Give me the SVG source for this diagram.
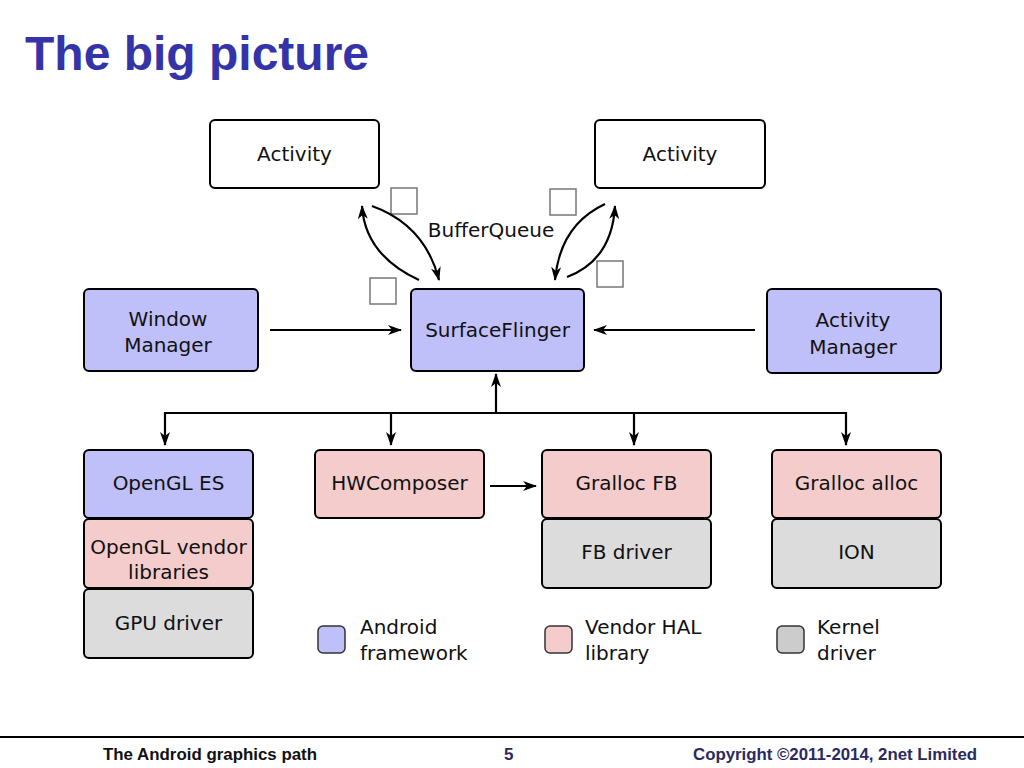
<svg xmlns="http://www.w3.org/2000/svg" width="1024" height="768" viewBox="0 0 1024 768">
<defs>
<marker id="ah" viewBox="0 0 14 10" refX="13" refY="5" markerWidth="14" markerHeight="10" markerUnits="userSpaceOnUse" orient="auto">
<path d="M0,0 L14,5 L0,10 L4,5 Z" fill="#000"/>
</marker>
</defs>
<style>
.box{stroke:#000;stroke-width:2}
.fw{fill:#bfbffa}
.hal{fill:#f4cccc}
.kd{fill:#dcdcdc}
.wh{fill:#fff}
.t{font-family:"DejaVu Sans",sans-serif;font-size:20px;fill:#111;text-anchor:middle}
.lg{font-family:"DejaVu Sans",sans-serif;font-size:20px;fill:#111}
.c{fill:none;stroke:#000;stroke-width:2.2}
.sq{fill:#fff;stroke:#777;stroke-width:1.5}
.ft{font-family:"Liberation Sans",Arial,sans-serif;font-weight:bold;font-size:17px}
</style>
<rect width="1024" height="768" fill="#fff"/>
<text x="25" y="70" font-family="Liberation Sans, Arial, sans-serif" font-weight="bold" font-size="48" fill="#3434a8">The big picture</text>

<g id="activity1"><rect class="box wh" x="210" y="120" width="169" height="68" rx="5"/><text class="t" x="294.5" y="161">Activity</text></g>
<g id="activity2"><rect class="box wh" x="595" y="120" width="170" height="68" rx="5"/><text class="t" x="680" y="161">Activity</text></g>
<g id="windowmanager"><rect class="box fw" x="84" y="289" width="174" height="82" rx="5"/><text class="t" x="168" y="326">Window</text><text class="t" x="168" y="352">Manager</text></g>
<g id="surfaceflinger"><rect class="box fw" x="411" y="289" width="173" height="82" rx="5"/><text class="t" x="497.5" y="337">SurfaceFlinger</text></g>
<g id="activitymanager"><rect class="box fw" x="767" y="289" width="174" height="84" rx="5"/><text class="t" x="853" y="327">Activity</text><text class="t" x="853" y="354">Manager</text></g>

<g id="opengles"><rect class="box fw" x="84" y="450" width="169" height="68" rx="5"/><text class="t" x="168.5" y="490">OpenGL ES</text></g>
<g id="openglvendor"><rect class="box hal" x="84" y="519" width="169" height="69" rx="5"/><text class="t" x="168.5" y="554">OpenGL vendor</text><text class="t" x="168.5" y="579">libraries</text></g>
<g id="gpudriver"><rect class="box kd" x="84" y="589" width="169" height="69" rx="5"/><text class="t" x="168.5" y="630">GPU driver</text></g>
<g id="hwcomposer"><rect class="box hal" x="315" y="450" width="169" height="68" rx="5"/><text class="t" x="399.5" y="490">HWComposer</text></g>
<g id="grallocfb"><rect class="box hal" x="542" y="450" width="169" height="68" rx="5"/><text class="t" x="626.5" y="490">Gralloc FB</text></g>
<g id="fbdriver"><rect class="box kd" x="542" y="519" width="169" height="69" rx="5"/><text class="t" x="626.5" y="559">FB driver</text></g>
<g id="grallocalloc"><rect class="box hal" x="772" y="450" width="169" height="68" rx="5"/><text class="t" x="856.5" y="490">Gralloc alloc</text></g>
<g id="ion"><rect class="box kd" x="772" y="519" width="169" height="69" rx="5"/><text class="t" x="856.5" y="559">ION</text></g>

<g id="buffers">
<rect class="sq" x="391" y="188" width="26" height="26"/>
<rect class="sq" x="550" y="189" width="26" height="26"/>
<rect class="sq" x="370" y="278" width="26" height="26"/>
<rect class="sq" x="597" y="261" width="26" height="26"/>
<text class="t" x="491" y="237">BufferQueue</text>
</g>

<g id="connectors">
<path class="c" d="M419,280 Q365,255 362,206" marker-end="url(#ah)"/>
<path class="c" d="M372,206 Q425,225 439,280" marker-end="url(#ah)"/>
<path class="c" d="M605,204 Q560,225 555,280" marker-end="url(#ah)"/>
<path class="c" d="M567,277 Q612,260 615,206" marker-end="url(#ah)"/>
<line class="c" x1="270" y1="330" x2="401" y2="330" marker-end="url(#ah)"/>
<line class="c" x1="755" y1="330" x2="594" y2="330" marker-end="url(#ah)"/>
<line class="c" x1="496" y1="413" x2="496" y2="374" marker-end="url(#ah)"/>
<polyline class="c" points="165,413 846,413"/>
<line class="c" x1="165" y1="412" x2="165" y2="445" marker-end="url(#ah)"/>
<line class="c" x1="391" y1="413" x2="391" y2="445" marker-end="url(#ah)"/>
<line class="c" x1="634" y1="413" x2="634" y2="445" marker-end="url(#ah)"/>
<line class="c" x1="846" y1="412" x2="846" y2="445" marker-end="url(#ah)"/>
<line class="c" x1="490" y1="486" x2="536" y2="486" marker-end="url(#ah)"/>
</g>

<g id="legend">
<rect class="fw" x="318" y="626" width="27" height="27" rx="5" stroke="#333" stroke-width="1.5"/>
<text class="lg" x="360" y="634">Android</text><text class="lg" x="360" y="660">framework</text>
<rect class="hal" x="545" y="626" width="27" height="27" rx="5" stroke="#333" stroke-width="1.5"/>
<text class="lg" x="585" y="634">Vendor HAL</text><text class="lg" x="585" y="660">library</text>
<rect fill="#cccccc" x="777" y="626" width="27" height="27" rx="5" stroke="#333" stroke-width="1.5"/>
<text class="lg" x="817" y="634">Kernel</text><text class="lg" x="817" y="660">driver</text>
</g>

<line x1="0" y1="737" x2="1024" y2="737" stroke="#000" stroke-width="2"/>
<text class="ft" x="103" y="760" fill="#111" textLength="214" lengthAdjust="spacingAndGlyphs">The Android graphics path</text>
<text class="ft" x="504" y="760" fill="#2a2a5e">5</text>
<text class="ft" x="693" y="760" fill="#2a2a5e" textLength="284" lengthAdjust="spacingAndGlyphs">Copyright ©2011-2014, 2net Limited</text>
</svg>
